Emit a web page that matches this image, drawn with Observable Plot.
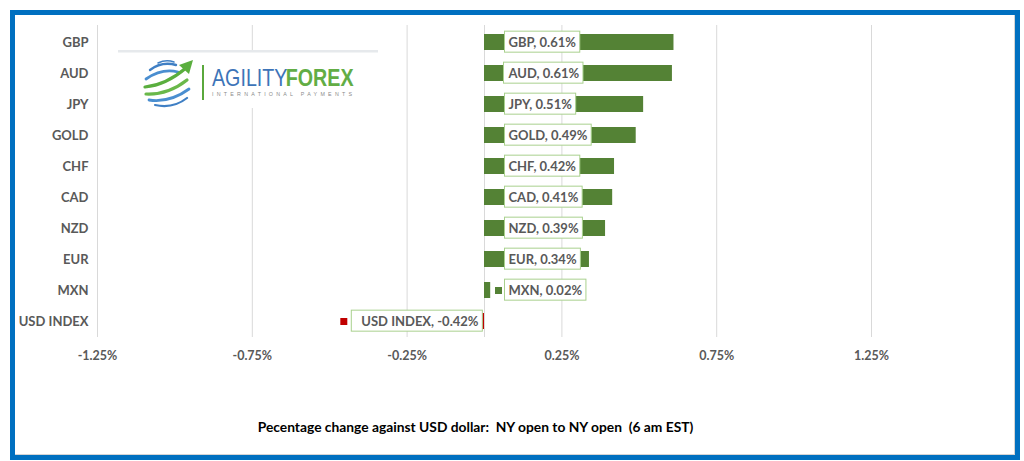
<!DOCTYPE html>
<html><head><meta charset="utf-8">
<script src="https://cdn.jsdelivr.net/npm/d3@7"></script>
<script src="https://cdn.jsdelivr.net/npm/@observablehq/plot@0.6"></script>
<style>
html,body{margin:0;padding:0;background:#fff;}
#wrap{position:relative;width:1024px;height:461px;overflow:hidden;font-family:Lato,"Open Sans",sans-serif;}
#frame{position:absolute;left:10px;top:10px;width:1000px;height:440px;border:5px solid #0070C0;box-shadow:inset -1px -1px 0 #d4d4d4;}
#chart{position:absolute;left:0;top:0;}
#logo{position:absolute;left:118px;top:50px;}
#caption{position:absolute;left:0;width:951px;top:418px;text-align:center;font-family:Lato,"Open Sans",sans-serif;font-weight:bold;font-size:13.8px;line-height:17px;white-space:pre;color:#000;}
</style></head>
<body>
<div id="wrap">
  <div id="frame"></div>
  <div id="chart"></div>
  <svg id="logo" width="260" height="58" viewBox="0 0 260 58">
    <rect x="0" y="0" width="260" height="58" fill="#fff"/>
    <rect x="0" y="0" width="260" height="2.5" fill="#e6e9ec"/>
    <g fill="none" stroke-linecap="round">
      <path d="M40 13 Q48 9 56 12" stroke="#3f7fc4" stroke-width="1.6"/>
      <path d="M32 20 Q44 11 58 15" stroke="#3f7fc4" stroke-width="2.4"/>
      <path d="M28 29 Q44 18 60 22" stroke="#4a8ed0" stroke-width="2.8"/>
      <path d="M27 37 Q48 35 68 18" stroke="#5aae3e" stroke-width="3.2"/>
      <path d="M28 44 Q50 45 69 30" stroke="#6ab84a" stroke-width="3.2"/>
      <path d="M31 50 Q52 53 71 39" stroke="#4a8ed0" stroke-width="2.8"/>
      <path d="M37 55 Q55 59 69 48" stroke="#3f7fc4" stroke-width="2.2"/>
    </g>
    <polygon points="61,15 75,10 71,24" fill="#5aae3e"/>
    <rect x="84" y="15" width="2" height="35" fill="#5aa83c"/>
    <g transform="translate(94,35.5) scale(0.82,1)" font-family="'Liberation Sans',sans-serif" font-size="24">
      <text x="0" y="0" fill="#3d74b8">AGILITY</text>
      <text x="90" y="0" fill="#62ad45" font-weight="bold">FOREX</text>
    </g>
    <text x="94" y="45.5" font-family="'Liberation Sans',sans-serif" font-size="5.3" fill="#8a8a8a" textLength="140" lengthAdjust="spacing">INTERNATIONAL PAYMENTS</text>
  </svg>
  <div id="caption"></div>
</div>
<script>
const currencies = ["GBP", "AUD", "JPY", "GOLD", "CHF", "CAD", "NZD", "EUR", "MXN", "USD INDEX"];
const changes = [0.612, 0.607, 0.514, 0.49, 0.42, 0.414, 0.391, 0.339, 0.02, -0.42];
const xTicks = [-1.25, -0.75, -0.25, 0.25, 0.75, 1.25];
const captionText = "Pecentage change against USD dollar:  NY open to NY open  (6 am EST)";

const GREEN = "#548235", RED = "#C00000", GRAY = "#595959";
const FONT = "Lato, 'Open Sans', sans-serif";

const data = currencies.map((c, i) => ({name: c, value: changes[i], label: `${c}, ${changes[i].toFixed(2)}%`}));
const pos = data.filter(d => d.value >= 0);
const neg = data.filter(d => d.value < 0);

const ctx = document.createElement("canvas").getContext("2d");
ctx.font = "bold 13px Lato";
const negW = Math.max(...neg.map(d => ctx.measureText(d.label).width));

const svg = Plot.plot({
  width: 1024,
  height: 367,
  marginLeft: 97,
  marginRight: 153,
  marginTop: 25,
  marginBottom: 30,
  style: `background:transparent;font-family:${FONT};font-size:12.5px;font-weight:bold;color:${GRAY};`,
  x: {domain: [-1.25, 1.25], label: null},
  y: {domain: currencies, paddingInner: 0.5, paddingOuter: 0.25, label: null},
  marks: [
    Plot.gridX(xTicks, {stroke: "#d9d9d9", strokeOpacity: 1}),
    Plot.ruleX([0], {stroke: "#d9d9d9"}),
    Plot.axisX(xTicks, {tickFormat: d => d.toFixed(2) + "%", tickSize: 0, tickPadding: 14, fontWeight: "bold", fontSize: 12.5, fill: GRAY, label: null}),
    Plot.axisY({tickSize: 0, tickPadding: 9, fontWeight: "bold", fontSize: 13, fill: GRAY, label: null}),
    Plot.barX(pos, {x: "value", y: "name", fill: GREEN}),
    Plot.barX(neg, {x: "value", y: "name", fill: RED}),
    Plot.dot(pos, {x: 0, y: "name", symbol: "square", r: 3.95, fill: GREEN, dx: 14}),
    Plot.dot(neg, {x: 0, y: "name", symbol: "square", r: 3.95, fill: RED, dx: -(6 + negW + 10 + 4 + 3.5)}),
    Plot.text(pos, {x: 0, y: "name", text: "label", textAnchor: "start", dx: 24, fontSize: 13, fontWeight: "bold", fill: GRAY, ariaLabel: () => "datalabel-pos"}),
    Plot.text(neg, {x: 0, y: "name", text: "label", textAnchor: "end", dx: -6, fontSize: 13, fontWeight: "bold", fill: GRAY, ariaLabel: () => "datalabel-neg"})
  ]
});
document.getElementById("chart").append(svg);

function boxes(sel, padL, padR) {
  svg.querySelectorAll(`text[aria-label="${sel}"]`).forEach(t => {
    const b = t.getBBox();
    const r = document.createElementNS("http://www.w3.org/2000/svg", "rect");
    const cy = b.y + b.height / 2;
    r.setAttribute("x", b.x - padL);
    r.setAttribute("y", cy - 10.5);
    r.setAttribute("width", b.width + padL + padR);
    r.setAttribute("height", 21);
    r.setAttribute("fill", "#fff");
    r.setAttribute("stroke", "#a9d18e");
    r.setAttribute("stroke-width", 1);
    const tr = t.getAttribute("transform");
    if (tr) r.setAttribute("transform", tr);
    t.parentNode.insertBefore(r, t);
  });
}
boxes("datalabel-pos", 4, 3.5);
boxes("datalabel-neg", 10, 3.5);

document.getElementById("caption").textContent = captionText;
</script>
</body></html>
